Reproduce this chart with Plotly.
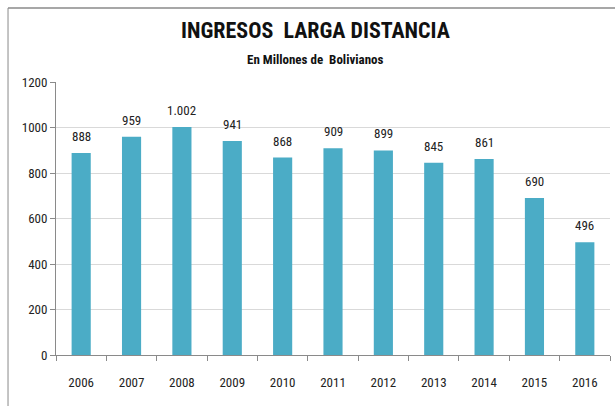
import plotly.graph_objects as go

years = ["2006", "2007", "2008", "2009", "2010", "2011", "2012", "2013", "2014", "2015", "2016"]
ingresos = [888, 959, 1002, 941, 868, 909, 899, 845, 861, 690, 496]
etiquetas = ["888", "959", "1.002", "941", "868", "909", "899", "845", "861", "690", "496"]

font_fam = "Liberation Sans Narrow, Arial Narrow, Roboto Condensed, Liberation Sans, sans-serif"

fig = go.Figure(
    go.Bar(
        x=years,
        y=ingresos,
        marker=dict(color="#4BACC6", line=dict(width=0)),
        width=0.38,
    )
)

# value labels above bars (category index for x)
for i, (v, t) in enumerate(zip(ingresos, etiquetas)):
    fig.add_annotation(x=i, y=v, text=t, showarrow=False, yanchor="bottom",
                       yshift=7, font=dict(size=13, color="#222"))

fig.add_annotation(text="<b>INGRESOS  LARGA DISTANCIA</b>", xref="paper", yref="paper",
                   x=0.468, y=1.189, xanchor="center", yanchor="middle", showarrow=False,
                   font=dict(size=22, color="#111"))
fig.add_annotation(text="<b>En Millones de  Bolivianos</b>", xref="paper", yref="paper",
                   x=0.468, y=1.084, xanchor="center", yanchor="middle", showarrow=False,
                   font=dict(size=13, color="#111"))

fig.update_layout(
    width=615,
    height=406,
    margin=dict(l=56, r=5, t=82, b=51, autoexpand=False),
    paper_bgcolor="white",
    plot_bgcolor="white",
    font=dict(family=font_fam, color="#222"),
    showlegend=False,
    shapes=[
        dict(type="line", xref="paper", yref="paper", x0=-0.0866, x1=-0.0866, y0=-0.5, y1=1.271,
             line=dict(color="#8a8a8a", width=1)),
        dict(type="line", xref="paper", yref="paper", x0=-0.0866, x1=1.2, y0=1.271, y1=1.271,
             line=dict(color="#8a8a8a", width=1.5)),
    ],
)

fig.update_yaxes(
    range=[0, 1200],
    dtick=200,
    showgrid=True,
    gridcolor="#d9d9d9",
    showline=True,
    linecolor="#8a8a8a",
    ticks="outside",
    ticklen=5,
    tickcolor="#8a8a8a",
    tickfont=dict(size=13),
    zeroline=False,
    automargin=False,
)
fig.update_xaxes(
    type="category",
    range=[-0.5, len(years) - 0.5],
    showline=True,
    linecolor="#8a8a8a",
    ticks="outside",
    tickson="boundaries",
    ticklen=5,
    tickcolor="#8a8a8a",
    tickfont=dict(size=13),
    ticklabelstandoff=15,
    automargin=False,
)

fig.write_html("out.html", post_script="document.body.style.margin='0';",
               config={"displayModeBar": False})
